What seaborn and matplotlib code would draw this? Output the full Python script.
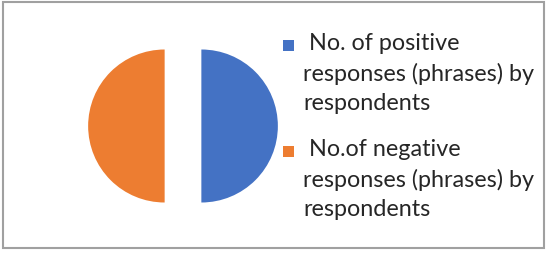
import numpy as np
import pandas as pd
import seaborn as sns
import matplotlib.pyplot as plt
from matplotlib.patches import Rectangle
from matplotlib.legend_handler import HandlerPatch

sns.set_theme(style='white')
plt.rcParams['font.family'] = ['Lato', 'DejaVu Sans']

# data
labels = ["No. of positive\nresponses (phrases) by\nrespondents",
          "No.of negative\nresponses (phrases) by\nrespondents"]
counts = [50, 50]
colors = ["#4472C4", "#ED7D31"]

df = pd.DataFrame({"label": labels, "count": counts})

W, H = 550, 255
fig = plt.figure(figsize=(W / 100, H / 100), dpi=100)

# pie axes, 1 unit = 76.5 px
r_px = 76.5
side = 220
cx, cy = 183, H - 127
ax = fig.add_axes([(cx - side / 2) / W, (cy - side / 2) / H, side / W, side / H])
wedges, _ = ax.pie(df["count"], colors=colors, startangle=90, counterclock=False,
                   explode=[0.24, 0.24], radius=1.0,
                   wedgeprops=dict(linewidth=0))
lim = side / 2 / r_px
ax.set_xlim(-lim, lim)
ax.set_ylim(-lim, lim)
ax.set_aspect('equal')
ax.axis('off')

# legend square sits next to the first line of each label
FS = 16.8
LINE_PT = 29 * 0.72 + 1.5
SQ = 8.0


def square(legend, orig_handle, xdescent, ydescent, width, height, fontsize):
    return Rectangle((-xdescent, -ydescent + LINE_PT - 0.9), SQ, SQ)


handles = [Rectangle((0, 0), 1, 1, facecolor=c, linewidth=0) for c in colors]
leg = fig.legend(handles, [" " + l for l in df["label"]],
                 handler_map={Rectangle: HandlerPatch(patch_func=square)},
                 loc='upper left', bbox_to_anchor=(283 / W, 1 - 33 / H),
                 frameon=False, fontsize=FS, handlelength=0.46, handletextpad=0.4,
                 labelspacing=1.07, borderpad=0, borderaxespad=0)
for t in leg.get_texts():
    t.set_color('#262626')
    t.set_linespacing(1.48)

# outer border
fig.patches.append(Rectangle((3 / W, 1 - 249 / H), 541 / W, 246 / H,
                             transform=fig.transFigure, fill=False,
                             edgecolor='#a0a0a0', linewidth=1.5))

fig.savefig('out.png', dpi=100)
